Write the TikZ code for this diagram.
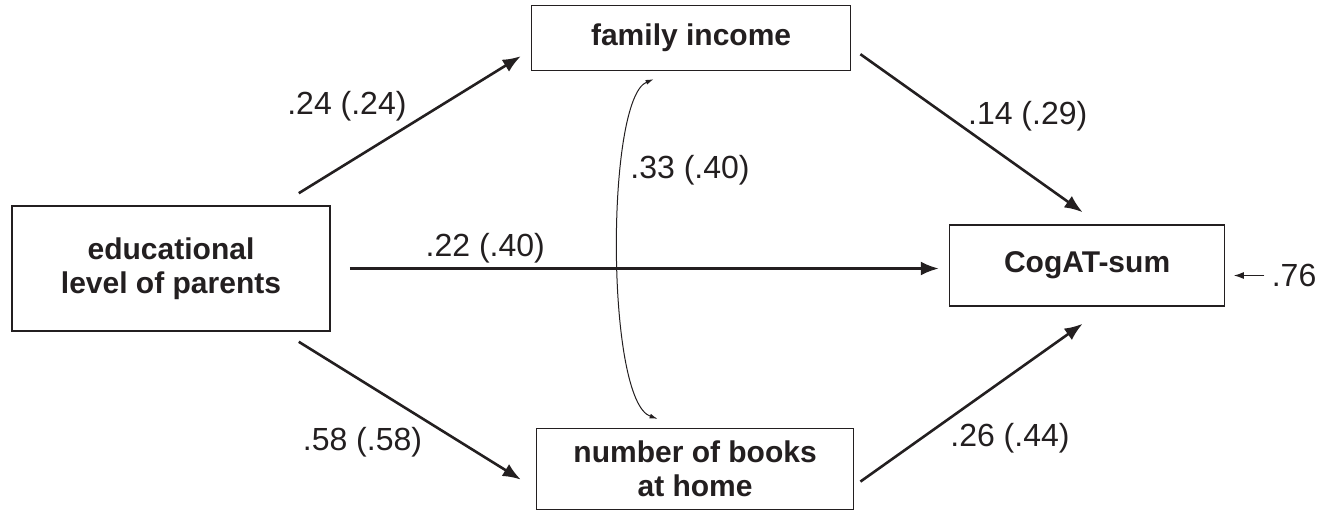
\documentclass[tikz,border=0pt]{standalone}
\usepackage{fontspec}
\setmainfont{Liberation Sans}
\usepackage{tikz}
\usetikzlibrary{arrows.meta,positioning}
\definecolor{ink}{RGB}{35,31,32}

\begin{document}
\begin{tikzpicture}[>={Latex[length=9pt,width=7pt]}, color=ink]
    \tikzset{block/.style= {draw, rectangle, align=center, minimum width=159pt, minimum height=40.5pt, inner sep=0pt, line width=0.8pt, font=\fontsize{15}{17}\selectfont\bfseries},
    coef/.style={inner sep=1pt, font=\fontsize{16}{19}\selectfont},
    }
    \useasboundingbox (0,0) rectangle (661pt,-254.5pt);
    \node [block, minimum height=62.5pt] (edu) at (85.5pt,-134.25pt) {educational\\level of parents};
    \node [block, minimum width=159.5pt, minimum height=32.5pt, above right=67pt and 100pt of edu] (income) {family income};
    \node [block, minimum width=158.5pt, below right=48pt and 102.5pt of edu] (books) {number of books\\at home};
    \node [block, minimum width=137.5pt, right=309pt of edu, yshift=1.5pt] (cogat) {CogAT-sum};
    \node [coef, right=22pt of cogat, yshift=-5pt] (resid) {.76};

% paths
    \path[->, line width=1.3pt, every node/.style={coef}]
                ([shift={(-16pt,6pt)}]edu.north east) edge node[pos=.5, anchor=south east] (w-inc) {.24 (.24)} ([shift={(-5pt,7.5pt)}]income.south west)
                ([shift={(4.5pt,8.5pt)}]income.south east) edge node[pos=.47, anchor=south west, yshift=-3pt] (w-inc-cog) {.14 (.29)} ([shift={(-2.25pt,6pt)}]cogat.north)
                (edu.east) edge[shorten <=9.5pt, shorten >=5pt] node[pos=.25, above=1pt] (w-cog) {.22 (.40)} (edu.east -| cogat.west)
                ([shift={(-16pt,-5pt)}]edu.south east) edge node[pos=.57, anchor=north east, yshift=-2pt] (w-bks) {.58 (.58)} ([shift={(-7.5pt,-5.25pt)}]books.west)
                ([shift={(3pt,-6.25pt)}]books.east) edge node[pos=.39, anchor=north west] (w-bks-cog) {.26 (.44)} ([shift={(-2.25pt,-8.5pt)}]cogat.south)
                ;
    \draw[<->, line width=0.5pt, >={Latex[length=4pt,width=2.5pt]}] ([shift={(-18.75pt,4.5pt)}]books.north) .. controls +(-26pt,9pt) and +(-24pt,-10pt) .. ([shift={(-18.75pt,-4pt)}]income.south) node[coef, pos=.67, anchor=west, xshift=3pt] (r-inc-bks) {.33 (.40)};
    \draw[->, line width=0.5pt, >={Latex[length=5pt,width=3.5pt]}, shorten <=2.5pt, shorten >=4.25pt] (resid.west) -- (resid.west -| cogat.east);
\end{tikzpicture}
\end{document}
